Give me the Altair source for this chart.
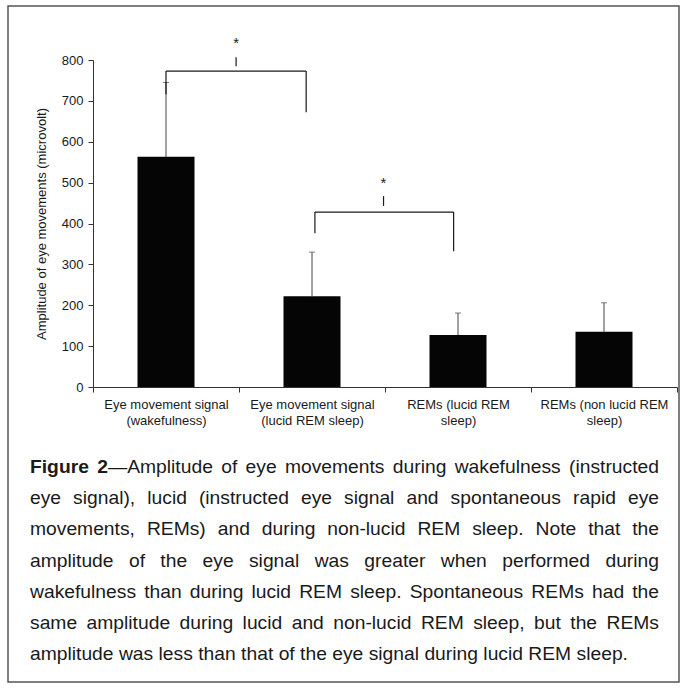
import altair as alt
import pandas as pd

# ---- data ----
categories = [
    "Eye movement signal|(wakefulness)",
    "Eye movement signal|(lucid REM sleep)",
    "REMs (lucid REM|sleep)",
    "REMs (non lucid REM|sleep)",
]
means = [563, 222, 127, 135]
upper = [745, 330, 181, 206]

# significance brackets (x in category units, 0..4; y in microvolt)
br_left_x = [0.5, 1.52]
br_right_x = [1.46, 2.47]
br_top = [773, 428]
br_left_end = [716, 376]
br_right_end = [672, 332]
br_tick_x = [0.98, 1.99]
br_tick_lo = [785, 443]
br_tick_hi = [807, 467]
star_y = [841, 499]

caption_bold = "Figure 2"
caption_lines = [
    "Figure 2\u2014Amplitude of eye movements during wakefulness (instructed",
    "eye signal), lucid (instructed eye signal and spontaneous rapid eye",
    "movements, REMs) and during non-lucid REM sleep. Note that the",
    "amplitude of the eye signal was greater when performed during",
    "wakefulness than during lucid REM sleep. Spontaneous REMs had the",
    "same amplitude during lucid and non-lucid REM sleep, but the REMs",
    "amplitude was less than that of the eye signal during lucid REM sleep.",
]

W, H = 584, 327
FONT = "Liberation Sans"
INK = "#1a1a1a"
Y_TITLE = "Amplitude of eye movements (microvolt)"

# ---- caption layout helper (Arial / Liberation Sans metrics, 1/1000 em) ----
_w = {" ": 278, "!": 278, "(": 333, ")": 333, ",": 278, "-": 333, ".": 278,
      "\u2014": 1000, ":": 278, ";": 278}
for c in "0123456789":
    _w[c] = 556
_w.update(dict(zip("ABCDEFGHIJKLMNOPQRSTUVWXYZ",
                   [667, 667, 722, 722, 667, 611, 778, 722, 278, 500, 667, 556, 833,
                    722, 778, 667, 778, 722, 667, 611, 722, 667, 944, 667, 667, 611])))
_w.update(dict(zip("abcdefghijklmnopqrstuvwxyz",
                   [556, 556, 500, 556, 556, 278, 556, 556, 222, 222, 500, 222, 833,
                    556, 556, 556, 556, 333, 500, 278, 556, 500, 722, 500, 500, 500])))
_wb = dict(_w)
_wb.update({"F": 611, "i": 278, "g": 611, "u": 611, "r": 389, "e": 556, "2": 556})


def text_w(s, size, bold=False):
    t = _wb if bold else _w
    return sum(t.get(c, 556) for c in s) * size / 1000.0


CAP_LEFT, CAP_RIGHT = -63, 566          # plot-area coordinates of the text block
CAP_SIZE = 598 / (text_w(caption_lines[-1], 1000) / 1000.0)
CAP_BASE, CAP_LH = 413, 31.2

rows = []
for i, line in enumerate(caption_lines):
    words = line.split(" ")
    pieces = []  # (text, bold, width) per word, possibly several segments
    for j, wd in enumerate(words):
        segs = []
        if i == 0 and j == 0:
            segs.append((wd, True))
        elif i == 0 and j == 1:
            segs.append(("2", True))
            segs.append((wd[1:], False))
        else:
            segs.append((wd, False))
        pieces.append(segs)
    widths = [sum(text_w(s, CAP_SIZE, b) for s, b in segs) for segs in pieces]
    if i < len(caption_lines) - 1 and len(words) > 1:
        gap = (CAP_RIGHT - CAP_LEFT - sum(widths)) / (len(words) - 1)
    else:
        gap = text_w(" ", CAP_SIZE)
    x = CAP_LEFT
    for segs, wdt in zip(pieces, widths):
        sx = x
        for s, b in segs:
            rows.append({"t": s, "x": sx, "y": CAP_BASE + i * CAP_LH, "bold": b})
            sx += text_w(s, CAP_SIZE, b)
        x += wdt + gap
cap_df = pd.DataFrame(rows)

df = pd.DataFrame({"cat": categories, "mean": means, "upper": upper})
br = pd.DataFrame({
    "lx": br_left_x, "rx": br_right_x, "top": br_top,
    "le": br_left_end, "re": br_right_end,
    "tx": br_tick_x, "tlo": br_tick_lo, "thi": br_tick_hi, "sy": star_y,
})

yscale = alt.Scale(domain=[0, 800], nice=False)
xband = alt.X(
    "cat:N", sort=categories, title=None,
    scale=alt.Scale(paddingInner=0, paddingOuter=0),
    axis=alt.Axis(
        labelExpr="split(datum.label, '|')", labelAngle=0, labelFont=FONT,
        labelFontSize=13, labelColor=INK, labelLineHeight=16, labelPadding=6,
        tickBand="extent", tickSize=5, tickColor="#333", domainColor="#333",
        labelBaseline="top",
    ),
)
yenc = alt.Y(
    "mean:Q", scale=yscale, title=Y_TITLE,
    axis=alt.Axis(
        values=list(range(0, 801, 100)), grid=False, tickSize=5,
        labelFont=FONT, labelFontSize=13, labelColor=INK, labelPadding=5,
        titleFont=FONT, titleFontSize=13, titleFontWeight="normal",
        titleColor=INK, titlePadding=13, tickColor="#333", domainColor="#333",
    ),
)

bars = alt.Chart(df).mark_bar(color="#050505", size=57).encode(x=xband, y=yenc)
err = alt.Chart(df).mark_rule(color="#444", strokeWidth=1).encode(
    x=alt.X("cat:N", sort=categories), y=alt.Y("mean:Q", title=Y_TITLE), y2="upper:Q"
)
cap = alt.Chart(df).mark_tick(color="#444", size=6, thickness=1, orient="horizontal").encode(
    x=alt.X("cat:N", sort=categories), y=alt.Y("upper:Q", title=Y_TITLE)
)
main = alt.layer(bars, err, cap)

xq = alt.Scale(domain=[0, 4], nice=False)
h_line = alt.Chart(br).mark_rule(color=INK, strokeWidth=1.2).encode(
    x=alt.X("lx:Q", scale=xq, axis=None), x2="rx:Q",
    y=alt.Y("top:Q", scale=yscale, axis=None)
)
l_leg = alt.Chart(br).mark_rule(color=INK, strokeWidth=1.2).encode(
    x=alt.X("lx:Q", scale=xq, axis=None),
    y=alt.Y("top:Q", scale=yscale, axis=None), y2="le:Q"
)
r_leg = alt.Chart(br).mark_rule(color=INK, strokeWidth=1.2).encode(
    x=alt.X("rx:Q", scale=xq, axis=None),
    y=alt.Y("top:Q", scale=yscale, axis=None), y2="re:Q"
)
t_mark = alt.Chart(br).mark_rule(color=INK, strokeWidth=1.2).encode(
    x=alt.X("tx:Q", scale=xq, axis=None),
    y=alt.Y("tlo:Q", scale=yscale, axis=None), y2="thi:Q"
)
stars = alt.Chart(br).mark_text(text="*", font=FONT, fontSize=15, color=INK, baseline="middle").encode(
    x=alt.X("tx:Q", scale=xq, axis=None), y=alt.Y("sy:Q", scale=yscale, axis=None)
)
brackets = alt.layer(h_line, l_leg, r_leg, t_mark, stars)

one = pd.DataFrame({"a": [0]})
border = alt.Chart(one).mark_rect(fill=None, stroke="#555", strokeWidth=1.5).encode(
    x=alt.value(-85), x2=alt.value(586), y=alt.value(-54), y2=alt.value(622)
)

cap_normal = alt.Chart(cap_df[~cap_df["bold"]]).mark_text(
    font=FONT, fontSize=CAP_SIZE, color=INK, align="left", baseline="alphabetic",
).encode(
    x=alt.X("x:Q", scale=None, axis=None), y=alt.Y("y:Q", scale=None, axis=None), text="t:N"
)
cap_boldl = alt.Chart(cap_df[cap_df["bold"]]).mark_text(
    font=FONT, fontSize=CAP_SIZE, fontWeight="bold", color=INK, align="left",
    baseline="alphabetic",
).encode(
    x=alt.X("x:Q", scale=None, axis=None), y=alt.Y("y:Q", scale=None, axis=None), text="t:N"
)

chart = alt.layer(main, brackets, border, cap_normal, cap_boldl).resolve_scale(
    x="independent", y="independent"
).properties(
    width=W, height=H,
    autosize=alt.AutoSizeParams(type="none"),
    padding={"left": 93, "top": 60, "right": 10, "bottom": 301},
    background="white",
).configure_view(stroke=None)

chart.save("out.html", embed_options={"renderer": "svg", "actions": False})
